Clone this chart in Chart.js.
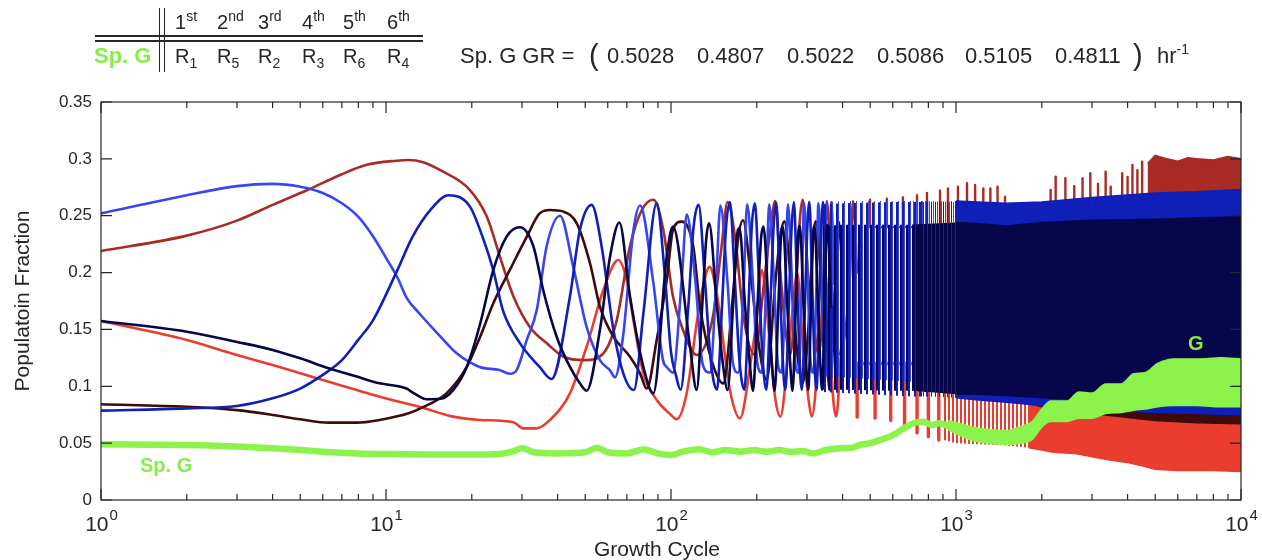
<!DOCTYPE html>
<html>
<head>
<meta charset="utf-8">
<title>Population Fraction vs Growth Cycle</title>
<script src="https://cdn.jsdelivr.net/npm/chart.js@4.4.1/dist/chart.umd.min.js"></script>
<style>
html,body{margin:0;padding:0;background:#fff;overflow:hidden;}
#wrap{position:relative;width:1262px;height:560px;}
#chart{position:absolute;left:0;top:0;}
#hdr{position:absolute;left:0;top:0;width:1262px;height:100px;font-family:'Liberation Sans',Arial,Helvetica,sans-serif;color:#262626;}
.t{position:absolute;white-space:nowrap;line-height:1;}
.sup,.sub{position:relative;font-size:14px;line-height:1;}
.rl{position:absolute;background:#262626;}
</style>
</head>
<body>
<div id="wrap">
<canvas id="chart" width="1262" height="560"></canvas>
<div id="hdr"></div>
</div>
<script>
// ---------------- data ----------------
const X_MAJOR = [1, 10, 100, 1000, 10000];
const X_EXP = ['0', '1', '2', '3', '4'];
const Y_TICKS = [0, 0.05, 0.1, 0.15, 0.2, 0.25, 0.3, 0.35];
const Y_TICK_LABELS = ['0', '0.05', '0.1', '0.15', '0.2', '0.25', '0.3', '0.35'];

const ORDINALS = [['1','st'],['2','nd'],['3','rd'],['4','th'],['5','th'],['6','th']];
const RANK_SUB = ['1','5','2','3','6','4'];
const GR_VALUES = ['0.5028','0.4807','0.5022','0.5086','0.5105','0.4811'];

// light blue series
const lightBlue = [[1,0.252],[2,0.268],[3,0.276],[4,0.278],[5,0.2755],[6,0.270],[7,0.261],[8,0.249],[9,0.232],[10,0.213],[11,0.195],[11.8,0.178],[13.1,0.164],[15.1,0.147],[17.7,0.129],[21.3,0.117],[25,0.1143],[27.2,0.111],[28.7,0.114],[31.2,0.141],[33.8,0.167],[36.6,0.223],[40.8,0.250],[45.4,0.205],[50.6,0.152],[56.3,0.123],[61.1,0.114],[63.6,0.108],[67.9,0.144],[73.8,0.237],[77.9,0.259],[86.5,0.193],[93.7,0.123],[96.6,0.117],[101.6,0.112],[109,0.193],[113.5,0.251],[122,0.19],[129,0.12],[137,0.112],[144,0.19],[149,0.259],[158,0.19],[165,0.12],[172,0.112],[180,0.19],[185,0.26],[194,0.19],[201,0.12],[208,0.112],[216,0.19],[221,0.26],[230,0.19],[237,0.12],[244,0.112],[252,0.19],[257,0.26],[266,0.19],[273,0.12],[280,0.112],[288,0.19],[293,0.261],[302,0.19],[309,0.12],[316,0.112],[324,0.19],[329,0.261],[338,0.19],[345,0.12],[352,0.112],[360,0.19],[365,0.262],[374,0.19]];
// medium blue series
const midBlue = [[1,0.0786],[2,0.0806],[3,0.0827],[4,0.0894],[5,0.098],[6,0.110],[7,0.123],[8,0.141],[9,0.158],[10.9,0.2008],[12.4,0.2316],[14.3,0.255],[16.6,0.268],[19.7,0.258],[21.8,0.2316],[23.8,0.202],[25.7,0.167],[29.5,0.138],[34.6,0.117],[38.1,0.1064],[44.2,0.179],[47.9,0.2375],[52.7,0.2595],[57.1,0.223],[62.8,0.1495],[68,0.1114],[74.1,0.0967],[80,0.164],[89.1,0.261],[95,0.2],[100,0.13],[104,0.11],[108,0.097],[115,0.17],[120,0.24],[125,0.2595],[131,0.2],[137,0.13],[141,0.105],[145,0.097],[151,0.17],[156,0.24],[161,0.262],[167,0.2],[173,0.13],[177,0.105],[181,0.097],[187,0.17],[192,0.24],[197,0.261],[203,0.2],[209,0.13],[216,0.097],[223,0.17],[229,0.24],[234,0.2615],[240,0.2],[246,0.13],[249,0.105],[252,0.097],[259,0.17],[265,0.24],[270,0.262],[276,0.2],[282,0.13],[285,0.105],[288,0.097],[295,0.17],[301,0.24],[306,0.262],[312,0.2],[318,0.13],[321,0.105],[324,0.097],[331,0.17],[337,0.24],[342,0.262],[348,0.2],[354,0.13],[357,0.105],[360,0.097],[367,0.17]];
// navy series
const navy = [[1,0.1574],[2,0.148],[3,0.139],[4,0.132],[5,0.1246],[6.3,0.1158],[7.9,0.1085],[9.5,0.1026],[11.8,0.098],[12.5,0.094],[13.9,0.0886],[15.5,0.089],[17.2,0.0967],[19.2,0.117],[21.4,0.155],[23.8,0.2023],[26.5,0.2316],[29.5,0.2398],[32.9,0.223],[35.6,0.1847],[39.7,0.1436],[44.2,0.117],[47.9,0.1026],[50.6,0.0961],[56.3,0.1495],[61.1,0.214],[65.9,0.244],[71.8,0.179],[80,0.117],[86.7,0.0938],[96.6,0.214],[101.6,0.2404],[116.6,0.135],[123,0.0967],[129,0.175],[133,0.23],[136,0.2433],[145,0.17],[152,0.12],[158,0.0967],[165,0.17],[170,0.23],[174,0.239],[182,0.17],[189,0.12],[194,0.096],[201,0.17],[207,0.23],[211,0.2404],[220,0.17],[226,0.12],[231,0.096],[238,0.17],[243,0.23],[247,0.24],[256,0.17],[262,0.12],[267,0.096],[274,0.17],[279,0.23],[283,0.241],[292,0.17],[298,0.12],[303,0.097],[310,0.17],[315,0.23],[319,0.241],[328,0.17],[334,0.12],[339,0.097],[346,0.17],[351,0.23],[355,0.242],[364,0.17]];
// dark red series
const darkRed = [[1,0.219],[2,0.2325],[3,0.2457],[4,0.2595],[5.3,0.2726],[6.9,0.2858],[8.5,0.2946],[10.9,0.2984],[12,0.299],[13.5,0.297],[15.5,0.290],[19.7,0.2726],[22.6,0.249],[25.1,0.214],[28,0.179],[32,0.152],[36.6,0.138],[42,0.126],[50,0.123],[57.9,0.129],[64.5,0.158],[71.8,0.223],[79,0.255],[86.7,0.264],[94,0.2375],[101.6,0.179],[110,0.15],[123,0.1275],[140,0.16],[150,0.22],[158,0.262],[168,0.23],[180,0.16],[196,0.128],[214,0.2],[225,0.245],[232,0.263],[242,0.2],[252,0.15],[262,0.128],[276,0.2],[284,0.25],[290,0.264],[302,0.2],[315,0.16],[330,0.128],[345,0.2],[352,0.263],[365,0.2],[378,0.15],[392,0.128],[425,0.2],[435,0.263],[450,0.2]];
// maroon series
const maroon = [[1,0.0842],[2,0.082],[3,0.079],[4,0.0748],[5,0.071],[6.3,0.068],[7.9,0.068],[9.5,0.0704],[12,0.0762],[13.2,0.0806],[16.3,0.0938],[19.2,0.117],[21.4,0.1436],[23.8,0.173],[27.2,0.2023],[31.2,0.2316],[34.6,0.252],[37.6,0.255],[41.9,0.2536],[46.7,0.2433],[52,0.208],[56.3,0.170],[62.8,0.1436],[71.8,0.126],[77.9,0.1114],[82.2,0.098],[89,0.14],[96.6,0.1935],[101.6,0.2375],[109,0.2448],[119.7,0.223],[126.4,0.17],[140,0.12],[152.6,0.1026],[165,0.18],[172,0.23],[179,0.246],[190,0.2],[205,0.13],[216.7,0.1055],[232,0.19],[243,0.235],[250,0.245],[262,0.2],[280,0.12],[290,0.103],[305,0.16],[315,0.23],[322,0.245],[335,0.2],[350,0.12],[362,0.103],[378,0.19],[387,0.245],[400,0.2]];
// red series
const red = [[1,0.1574],[2,0.1407],[3,0.1275],[4,0.1187],[5,0.1114],[6.3,0.104],[7.9,0.0967],[9.5,0.0909],[12,0.0844],[13.1,0.082],[17.2,0.0733],[21.4,0.0704],[28,0.0683],[30.3,0.063],[33.8,0.063],[37.6,0.0704],[44.2,0.0938],[50.6,0.135],[57.9,0.1847],[65.3,0.211],[69.9,0.1935],[73.8,0.158],[80,0.1114],[89.1,0.088],[98.7,0.0762],[104.7,0.071],[113.5,0.0938],[123,0.155],[130,0.19],[136.6,0.205],[145,0.18],[161,0.0967],[174.6,0.0718],[190,0.12],[200,0.161],[208,0.2023],[220,0.15],[232,0.09],[242,0.0733],[258,0.13],[270,0.18],[277,0.2],[290,0.14],[305,0.085],[312,0.0733],[330,0.13],[342,0.18],[348,0.2],[360,0.14],[372,0.085],[380,0.0733],[395,0.13]];
// species G
const spG = [[1,0.049],[2,0.0484],[3,0.047],[4,0.0455],[5,0.044],[6,0.0425],[8,0.041],[10,0.0405],[15,0.040],[20,0.040],[25,0.0405],[28,0.043],[30,0.0455],[33,0.042],[40,0.041],[50,0.042],[55,0.046],[60,0.042],[70,0.041],[80,0.0445],[90,0.041],[100,0.0396],[110,0.0425],[125,0.0446],[140,0.042],[155,0.044],[175,0.0425],[195,0.044],[217,0.0425],[240,0.044],[261,0.0425],[290,0.043],[316,0.041],[350,0.044],[392,0.0455],[430,0.046],[460,0.0484],[500,0.050],[541,0.0528],[603,0.0572],[671,0.0645],[720,0.068],[768,0.0689],[820,0.066],[879,0.0675],[940,0.065],[1006,0.0645]];

// dense (unresolved oscillation) region: envelopes of each series
const denseX       = [340,   400,   600,   700,   800,   1000,  1200,  1500,  2000,  3000,  5000,  7000,  10000];
const navyHi       = [0.241, 0.242, 0.242, 0.242, 0.243, 0.244, 0.243, 0.241, 0.244, 0.246, 0.247, 0.248, 0.249];
const navyLo       = [0.097, 0.097, 0.096, 0.096, 0.095, 0.093, 0.093, 0.092, 0.090, 0.088, 0.086, 0.085, 0.085];
const midBlueHi    = [0.260, 0.261, 0.262, 0.262, 0.262, 0.263, 0.262, 0.261, 0.262, 0.266, 0.270, 0.271, 0.273];
const midBlueLo    = [0.095, 0.094, 0.092, 0.091, 0.091, 0.090, 0.088, 0.086, 0.083, 0.080, 0.077, 0.076, 0.075];
const lightBlueHi  = [0.262, 0.263, 0.263, 0.263, 0.263, 0.262, 0.260, 0.258, 0.258, 0.262, 0.266, 0.268, 0.270];
const lightBlueLo  = [0.110, 0.108, 0.105, 0.104, 0.102, 0.100, 0.098, 0.095, 0.090, 0.085, 0.080, 0.078, 0.077];
const maroonHi     = [0.200, 0.200, 0.200, 0.200, 0.200, 0.200, 0.200, 0.200, 0.200, 0.200, 0.200, 0.200, 0.200];
const maroonLo     = [0.101, 0.100, 0.098, 0.097, 0.096, 0.095, 0.093, 0.090, 0.082, 0.076, 0.070, 0.068, 0.067];

const darkRedBlockX = [4700, 5000, 5500, 6000, 6500, 7000, 8000, 9000, 10000];
const darkRedBlockHi = [0.296, 0.303, 0.300, 0.298, 0.301, 0.300, 0.299, 0.302, 0.300];
const darkRedBlockLo = [0.250, 0.250, 0.250, 0.250, 0.250, 0.250, 0.250, 0.250, 0.250];
const darkRedSpikeX = [499, 572, 651, 730, 791, 879, 937, 1016, 1093, 1167, 1247, 1320, 1399, 1486, 2148, 2237, 2420, 2600, 2780, 2960, 3150, 3350, 3490, 3830, 4000, 4160, 4330, 4500];
const darkRedSpikeY = [0.264, 0.265, 0.266, 0.268, 0.270, 0.272, 0.274, 0.2756, 0.2785, 0.277, 0.274, 0.274, 0.2756, 0.2668, 0.2726, 0.2844, 0.283, 0.276, 0.283, 0.2873, 0.278, 0.2888, 0.2756, 0.2873, 0.284, 0.2946, 0.290, 0.2976];
const DARK_RED_SPIKE_BASE = 0.24;

const redDipX = [450, 520, 590, 660, 730, 800, 870];
const redDipY = [0.073, 0.072, 0.070, 0.0645, 0.059, 0.0557, 0.0528];
const RED_DIP_BASE = 0.12;
const redBlockX  = [900,   1000,  1200,  1500,  1800,  2000,  2200,  2600,  3000,  3500,  4000,  4500,  5000,  6000,  8000,  10000];
const redBlockHi = [0.095, 0.095, 0.095, 0.095, 0.095, 0.095, 0.095, 0.095, 0.095, 0.095, 0.095, 0.095, 0.095, 0.095, 0.095, 0.095];
const redBlockLo = [0.053, 0.050, 0.049, 0.048, 0.046, 0.044, 0.042, 0.041, 0.038, 0.035, 0.033, 0.030, 0.027, 0.026, 0.026, 0.025];

const greenBandX = [940, 1006, 1150, 1300, 1500, 1700, 1850, 2000, 2150, 2450, 2700, 3000, 3350, 3800, 4200, 4600, 5100, 5800, 7000, 8500, 10000];
const greenBandHi = [0.070, 0.068, 0.064, 0.062, 0.061, 0.065, 0.069, 0.080, 0.087, 0.087, 0.095, 0.094, 0.102, 0.102, 0.111, 0.112, 0.120, 0.124, 0.124, 0.125, 0.124];
const greenBandLo = [0.062, 0.058, 0.052, 0.050, 0.049, 0.050, 0.053, 0.064, 0.069, 0.069, 0.072, 0.072, 0.076, 0.077, 0.079, 0.080, 0.082, 0.083, 0.083, 0.082, 0.082];

// annotation anchors (data coordinates)
const LABEL_SPG = {x: 1.37, y: 0.0246, text: 'Sp. G'};
const LABEL_G = {x: 6516, y: 0.132, text: 'G'};

// ---------------- styles ----------------
const C = {
  navy: '#06064a', midBlue: '#0f1fb8', lightBlue: '#3646f0', maroon: '#3e0a0a',
  darkRed: '#a82b24', red: '#ea3d2e', green: '#8cf24c', greenText: '#86ec48', axis: '#262626'
};
const FONT = "'Liberation Sans', Arial, Helvetica, sans-serif";
// x ranges where the unresolved oscillation is rendered sparse, denser, solid
const TIER_A = [340, 800], TIER_B = [700, 1200], TIER_C = [1000, 10000];

// ---------------- header (HTML text) ----------------
const hdr = document.getElementById('hdr');
function txt(html, left, baseline, size, extra) {
  const d = document.createElement('div');
  d.className = 't';
  d.style.left = left + 'px';
  d.style.top = (baseline - 0.8465 * size) + 'px';
  d.style.fontSize = size + 'px';
  if (extra) Object.assign(d.style, extra);
  d.innerHTML = html;
  hdr.appendChild(d);
}
function rule(l, t, w, h) {
  const d = document.createElement('div');
  d.className = 'rl';
  Object.assign(d.style, {left: l + 'px', top: t + 'px', width: w + 'px', height: h + 'px'});
  hdr.appendChild(d);
}
rule(95, 35, 328, 1.5); rule(95, 40, 328, 1.5);
rule(158.5, 8, 1.5, 64); rule(163.5, 8, 1.5, 64);
const COL_X = [175, 217, 258, 302, 343, 387];
ORDINALS.forEach((o, i) => txt(o[0] + '<span class="sup" style="top:-8px">' + o[1] + '</span>', COL_X[i], 29, 20));
RANK_SUB.forEach((s, i) => txt('R<span class="sub" style="top:5px">' + s + '</span>', COL_X[i], 63, 20));
txt('Sp. G', 94, 64, 22, {fontWeight: 'bold', color: C.greenText});
txt('Sp. G GR =', 460, 64, 22);
txt('(', 589, 66, 29);
const GR_X = [607, 697, 787, 877, 965, 1055];
GR_VALUES.forEach((v, i) => txt(v, GR_X[i], 64, 22));
txt(')', 1133, 66, 29);
txt('hr<span class="sup" style="top:-9px">-1</span>', 1157, 64, 22);

// ---------------- datasets ----------------
const canvasCtx = document.getElementById('chart').getContext('2d');
function stripes(color, period, cols) {
  const c = document.createElement('canvas');
  c.width = period; c.height = 4;
  const g = c.getContext('2d');
  g.fillStyle = color;
  cols.forEach(k => g.fillRect(k, 0, 1, 4));
  return canvasCtx.createPattern(c, 'repeat');
}
const datasets = [];
const P = arr => arr.map(p => ({x: p[0], y: p[1]}));
function XY(xs, ys, range) {
  const out = [];
  xs.forEach((x, i) => { if (!range || (x >= range[0] && x <= range[1])) out.push({x: x, y: ys[i]}); });
  return out;
}
function addLine(data, color, width, order) {
  datasets.push({data: data, borderColor: color, borderWidth: width, order: order,
    cubicInterpolationMode: 'monotone', fill: false, borderJoinStyle: 'round', borderCapStyle: 'round'});
}
function addBand(xs, hi, lo, range, fillStyle, order, border, smooth) {
  const ext = smooth ? {cubicInterpolationMode: 'monotone'} : {tension: 0};
  const bw = border ? 1.5 : 0;
  datasets.push(Object.assign({data: XY(xs, hi, range), borderColor: border || 'rgba(0,0,0,0)', backgroundColor: fillStyle, borderWidth: bw, fill: '+1', order: order}, ext));
  datasets.push(Object.assign({data: XY(xs, lo, range), borderColor: border || 'rgba(0,0,0,0)', borderWidth: bw, fill: false, order: order}, ext));
}
function addSpikes(xs, tips, base, color, width, order) {
  const d = [];
  xs.forEach((x, i) => { d.push({x: x, y: base}, {x: x, y: tips[i]}, {x: x, y: base}); });
  datasets.push({data: d, borderColor: color, borderWidth: width, order: order, tension: 0, fill: false, borderJoinStyle: 'round'});
}

// top -> bottom layering (lower order drawn on top)
addLine(P(spG), C.green, 6.5, 1);
addBand(greenBandX, greenBandHi, greenBandLo, null, C.green, 2, C.green, true);

addLine(P(navy), C.navy, 2.6, 10);
addBand(denseX, navyHi, navyLo, TIER_C, C.navy, 11, C.navy);
addBand(denseX, navyHi, navyLo, TIER_B, stripes(C.navy, 4, [0, 1, 2]), 12);
addBand(denseX, navyHi, navyLo, TIER_A, stripes(C.navy, 6, [0, 1]), 13);

addLine(P(midBlue), C.midBlue, 2.6, 20);
addBand(denseX, midBlueHi, midBlueLo, TIER_C, C.midBlue, 21, C.midBlue);
addBand(denseX, midBlueHi, midBlueLo, TIER_B, stripes(C.midBlue, 4, [3]), 22);
addBand(denseX, midBlueHi, midBlueLo, TIER_A, stripes(C.midBlue, 6, [2, 3]), 23);

addLine(P(lightBlue), C.lightBlue, 2.6, 30);
addBand(denseX, lightBlueHi, lightBlueLo, TIER_C, C.lightBlue, 31, C.lightBlue);
addBand(denseX, lightBlueHi, lightBlueLo, TIER_B, stripes(C.lightBlue, 4, [1]), 32);
addBand(denseX, lightBlueHi, lightBlueLo, TIER_A, stripes(C.lightBlue, 6, [4]), 33);

addLine(P(maroon), C.maroon, 2.6, 40);
addBand(denseX, maroonHi, maroonLo, TIER_C, C.maroon, 41, C.maroon);

addLine(P(darkRed), C.darkRed, 2.6, 50);
addSpikes(darkRedSpikeX, darkRedSpikeY, DARK_RED_SPIKE_BASE, C.darkRed, 2.4, 51);
addBand(darkRedBlockX, darkRedBlockHi, darkRedBlockLo, null, C.darkRed, 52, C.darkRed);

addLine(P(red), C.red, 2.6, 60);
addSpikes(redDipX, redDipY, RED_DIP_BASE, C.red, 3.4, 61);
addBand(redBlockX, redBlockHi, redBlockLo, [1800, 10000], C.red, 62, C.red);
addBand(redBlockX, redBlockHi, redBlockLo, [900, 2000], stripes(C.red, 4, [0, 1]), 63);

// ---------------- axes decoration plugin ----------------
const axesPlugin = {
  id: 'matlabAxes',
  afterDraw(chart) {
    const {ctx, chartArea: a, scales: {x, y}} = chart;
    ctx.save();
    ctx.strokeStyle = C.axis;
    ctx.lineWidth = 1.2;
    ctx.strokeRect(a.left, a.top, a.right - a.left, a.bottom - a.top);
    ctx.beginPath();
    Y_TICKS.forEach(v => {
      const p = y.getPixelForValue(v);
      ctx.moveTo(a.left, p); ctx.lineTo(a.left + 11, p);
      ctx.moveTo(a.right, p); ctx.lineTo(a.right - 11, p);
    });
    X_MAJOR.forEach((v, i) => {
      const p = x.getPixelForValue(v);
      ctx.moveTo(p, a.bottom); ctx.lineTo(p, a.bottom - 11);
      ctx.moveTo(p, a.top); ctx.lineTo(p, a.top + 11);
      if (i < X_MAJOR.length - 1) {
        for (let k = 2; k < 10; k++) {
          const q = x.getPixelForValue(v * k);
          ctx.moveTo(q, a.bottom); ctx.lineTo(q, a.bottom - 6);
          ctx.moveTo(q, a.top); ctx.lineTo(q, a.top + 6);
        }
      }
    });
    ctx.stroke();

    ctx.fillStyle = C.axis;
    ctx.textBaseline = 'alphabetic';
    ctx.textAlign = 'left';
    X_MAJOR.forEach((v, i) => {
      const p = x.getPixelForValue(v);
      ctx.font = '21px ' + FONT;
      const w1 = ctx.measureText('10').width;
      ctx.font = '15px ' + FONT;
      const w2 = ctx.measureText(X_EXP[i]).width;
      const left = p - (w1 + w2) / 2;
      ctx.font = '21px ' + FONT;
      ctx.fillText('10', left, 531);
      ctx.font = '15px ' + FONT;
      ctx.fillText(X_EXP[i], left + w1 + 1, 520);
    });
    ctx.font = '21px ' + FONT;
    ctx.textAlign = 'center';
    ctx.fillText('Growth Cycle', 657, 556);
    ctx.save();
    ctx.translate(29, (a.top + a.bottom) / 2);
    ctx.rotate(-Math.PI / 2);
    ctx.fillText('Populatoin Fraction', 0, 0);
    ctx.restore();

    ctx.font = 'bold 20px ' + FONT;
    ctx.fillStyle = C.greenText;
    ctx.textAlign = 'left';
    ctx.fillText(LABEL_SPG.text, x.getPixelForValue(LABEL_SPG.x), y.getPixelForValue(LABEL_SPG.y));
    ctx.fillText(LABEL_G.text, x.getPixelForValue(LABEL_G.x), y.getPixelForValue(LABEL_G.y));
    ctx.restore();
  }
};

new Chart(canvasCtx, {
  type: 'line',
  data: {datasets: datasets},
  options: {
    responsive: false,
    animation: false,
    devicePixelRatio: 1,
    events: [],
    layout: {padding: {left: 0, right: 21, top: 102, bottom: 0}},
    elements: {point: {radius: 0, hoverRadius: 0}},
    plugins: {legend: {display: false}, tooltip: {enabled: false}},
    scales: {
      x: {
        type: 'logarithmic', min: 1, max: 10000,
        grid: {display: false, drawTicks: false}, border: {display: false},
        ticks: {display: false},
        afterFit(s) { s.height = 60; }
      },
      y: {
        type: 'linear', min: 0, max: 0.35,
        grid: {display: false, drawTicks: false}, border: {display: false},
        afterBuildTicks(s) { s.ticks = Y_TICKS.map(v => ({value: v})); },
        ticks: {callback: (v, i) => Y_TICK_LABELS[i], font: {family: FONT, size: 17}, color: C.axis, padding: 9},
        afterFit(s) { s.width = 101; }
      }
    }
  },
  plugins: [axesPlugin]
});
</script>
</body>
</html>
